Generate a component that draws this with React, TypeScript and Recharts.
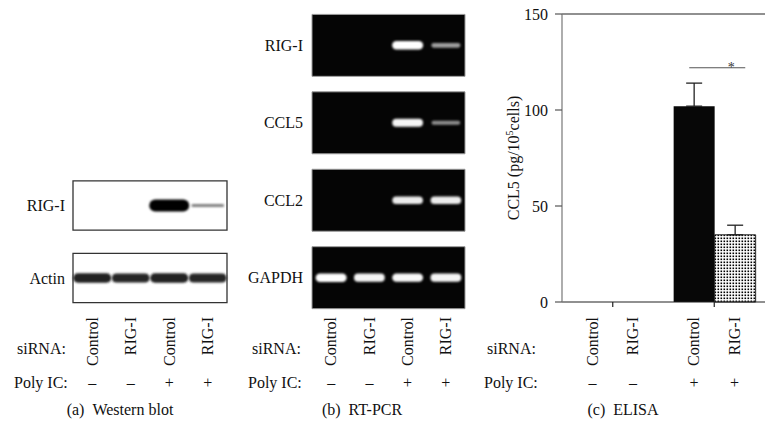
import React from "react";
import {
  Bar,
  BarChart,
  ErrorBar,
  ReferenceArea,
  ReferenceDot,
  ReferenceLine,
  Scatter,
  ScatterChart,
  XAxis,
  YAxis,
} from "recharts";

const FONT = "Liberation Serif, DejaVu Serif, serif";
const FS = 16;

// lanes shared by the three panels
const sirnaLabels = ["Control", "RIG-I", "Control", "RIG-I"];
const polyIcLabels = ["\u2013", "\u2013", "+", "+"];

// (a) western blot: band strength per lane, 0 = no band
const westernRows = ["RIG-I", "Actin"];
const westernRigI = [0, 0, 1, 0.4];
const westernActin = [0.85, 0.82, 0.85, 0.82];

// (b) RT-PCR
const pcrRows = ["RIG-I", "CCL5", "CCL2", "GAPDH"];
const pcrRigI = [0, 0, 1, 0.5];
const pcrCcl5 = [0, 0, 0.95, 0.42];
const pcrCcl2 = [0, 0, 0.9, 0.9];
const pcrGapdh = [1, 0.95, 0.97, 0.95];

// (c) ELISA, CCL5 pg/10^5 cells (upper error only)
const elisaGroups = ["\u2013", "+"];
const elisaControl = [0, 102];
const elisaRigI = [0, 35];
const elisaControlErr = [0, 12];
const elisaRigIErr = [0, 5];
const elisaTicks = [0, 50, 100, 150];
const sigLevel = 122;

type Band = { lane: number; row: number; strength: number };

function toBands(rows: number[][]): Band[] {
  return rows.flatMap((vals, row) =>
    vals.map((v, i) => ({ lane: i + 1, row, strength: v }))
  );
}

const westernData = toBands([westernRigI, westernActin]);
const pcrData = toBands([pcrRigI, pcrCcl5, pcrCcl2, pcrGapdh]);

const elisaData = elisaGroups.map((g, i) => ({
  group: g,
  control: elisaControl[i],
  rigi: elisaRigI[i],
  controlErr: [0, elisaControlErr[i]],
  rigiErr: [0, elisaRigIErr[i]],
}));

const LABEL_TOP = 317;
const SIGN_Y = 382;

function LaneLabel({ x, lane }: { x: number; lane: number }) {
  return (
    <g>
      <text
        transform={`translate(${x},${LABEL_TOP}) rotate(-90)`}
        textAnchor="end"
        dy="0.33em"
        fontSize={FS}
        fontFamily={FONT}
        fill="#111"
      >
        {sirnaLabels[lane]}
      </text>
      <text
        x={x}
        y={SIGN_Y}
        textAnchor="middle"
        dy="0.35em"
        fontSize={FS}
        fontFamily={FONT}
        fill="#111"
      >
        {polyIcLabels[lane]}
      </text>
    </g>
  );
}

function LaneTick(props: any) {
  return <LaneLabel x={props.x} lane={props.payload.value - 1} />;
}

function GroupTick(props: any) {
  const { x, index } = props;
  const half = 20.3;
  return (
    <g>
      <LaneLabel x={x - half} lane={index * 2} />
      <LaneLabel x={x + half} lane={index * 2 + 1} />
    </g>
  );
}

function WesternBand(props: any) {
  const { cx, cy, payload } = props;
  const v = payload.strength;
  if (!v) return <g />;
  const w = 28 + 12 * v;
  const h = 12 * Math.pow(v, 1.5);
  const grey = Math.round(215 * (1 - v));
  return (
    <rect
      x={cx - w / 2}
      y={cy - h / 2}
      width={w}
      height={h}
      rx={h / 2}
      fill={`rgb(${grey},${grey},${grey})`}
      filter="url(#soft)"
    />
  );
}

function PcrBand(props: any) {
  const { cx, cy, payload } = props;
  const v = payload.strength;
  if (!v) return <g />;
  const w = 27 + 4 * v;
  const h = 8.5 * Math.pow(v, 0.9);
  const grey = Math.round(60 + 195 * v);
  return (
    <rect
      x={cx - w / 2}
      y={cy - h / 2}
      width={w}
      height={h}
      rx={h / 2}
      fill={`rgb(${grey},${grey},${grey})`}
      filter="url(#soft)"
    />
  );
}

function SigMark(props: any) {
  const { cx, cy } = props;
  return (
    <g>
      <line x1={cx - 25} x2={cx + 31} y1={cy} y2={cy} stroke="#555" strokeWidth={1.2} />
      <text x={cx + 17} y={cy + 4} textAnchor="middle" fontSize={14} fontFamily={FONT} fill="#333">
        *
      </text>
    </g>
  );
}

const tickText = { fontSize: FS, fill: "#111", fontFamily: FONT };

function Txt(props: any) {
  return <text fontSize={FS} fontFamily={FONT} fill="#111" dy="0.35em" {...props} />;
}

export default function App() {
  return (
    <div
      style={{
        position: "absolute",
        left: 0,
        top: 0,
        width: 778,
        height: 432,
        background: "#fff",
        fontFamily: FONT,
      }}
    >
      <svg width={778} height={432} style={{ position: "absolute", left: 0, top: 0 }}>
        <defs>
          <pattern id="dots" width="3" height="3" patternUnits="userSpaceOnUse">
            <rect width="3" height="3" fill="#fff" />
            <rect x="0.5" y="0.5" width="1.6" height="1.6" fill="#000" />
          </pattern>
          <filter id="soft" x="-20%" y="-80%" width="140%" height="260%">
            <feGaussianBlur stdDeviation="0.9" />
          </filter>
        </defs>
        <Txt x={17} y={348}>siRNA:</Txt>
        <Txt x={14} y={SIGN_Y}>Poly IC:</Txt>
        <Txt x={120} y={409} textAnchor="middle">(a)&#160;&#160;Western blot</Txt>

        <Txt x={252} y={348}>siRNA:</Txt>
        <Txt x={248} y={SIGN_Y}>Poly IC:</Txt>
        <Txt x={362} y={409} textAnchor="middle">(b)&#160;&#160;RT-PCR</Txt>

        <Txt x={487} y={348}>siRNA:</Txt>
        <Txt x={484} y={SIGN_Y}>Poly IC:</Txt>
        <Txt x={623} y={409} textAnchor="middle">(c)&#160;&#160;ELISA</Txt>

        <Txt transform="translate(513,158) rotate(-90)" textAnchor="middle">
          CCL5 (pg/10
          <tspan dy="-6" fontSize={10}>5</tspan>
          <tspan dy="6">cells)</tspan>
        </Txt>
      </svg>

      {/* (a) Western blot */}
      <div style={{ position: "absolute", left: 0, top: 0 }}>
        <ScatterChart
          width={778}
          height={432}
          margin={{ top: 169.25, bottom: 97.75, left: 33, right: 551 }}
        >
          <XAxis
            type="number"
            dataKey="lane"
            domain={[0.5, 4.5]}
            ticks={[1, 2, 3, 4]}
            axisLine={false}
            tickLine={false}
            height={20}
            tick={<LaneTick />}
          />
          <YAxis
            type="number"
            dataKey="row"
            domain={[-0.5, 1.5]}
            reversed
            ticks={[0, 1]}
            tickFormatter={(v: number) => westernRows[v]}
            axisLine={false}
            tickLine={false}
            tickSize={0}
            tickMargin={8}
            width={40}
            tick={tickText}
          />
          {westernRows.map((r, i) => (
            <ReferenceArea
              key={r}
              x1={0.5}
              x2={4.5}
              y1={i - 0.34}
              y2={i + 0.34}
              fill="#fff"
              fillOpacity={1}
              stroke="#333"
              strokeWidth={1.3}
              ifOverflow="visible"
            />
          ))}
          <Scatter data={westernData} shape={<WesternBand />} isAnimationActive={false} />
        </ScatterChart>
      </div>

      {/* (b) RT-PCR */}
      <div style={{ position: "absolute", left: 0, top: 0 }}>
        <ScatterChart
          width={778}
          height={432}
          margin={{ top: 6.65, bottom: 95.6, left: 262, right: 313 }}
        >
          <XAxis
            type="number"
            dataKey="lane"
            domain={[0.5, 4.5]}
            ticks={[1, 2, 3, 4]}
            axisLine={false}
            tickLine={false}
            height={20}
            tick={<LaneTick />}
          />
          <YAxis
            type="number"
            dataKey="row"
            domain={[-0.5, 3.5]}
            reversed
            ticks={[0, 1, 2, 3]}
            tickFormatter={(v: number) => pcrRows[v]}
            axisLine={false}
            tickLine={false}
            tickSize={0}
            tickMargin={9}
            width={50}
            tick={tickText}
          />
          {pcrRows.map((r, i) => (
            <ReferenceArea
              key={r}
              x1={0.5}
              x2={4.5}
              y1={i - 0.4}
              y2={i + 0.4}
              fill="#050505"
              fillOpacity={1}
              stroke="#9a9a9a"
              strokeWidth={1}
              ifOverflow="visible"
            />
          ))}
          <Scatter data={pcrData} shape={<PcrBand />} isAnimationActive={false} />
        </ScatterChart>
      </div>

      {/* (c) ELISA */}
      <div style={{ position: "absolute", left: 0, top: 0 }}>
        <BarChart
          width={778}
          height={432}
          data={elisaData}
          margin={{ top: 14, bottom: 110, left: 502, right: 13 }}
          barGap={0}
          barCategoryGap="10%"
        >
          <XAxis
            dataKey="group"
            axisLine={{ stroke: "#222", strokeWidth: 1.2 }}
            tickLine={{ stroke: "#222", strokeWidth: 1.2 }}
            tickSize={5}
            height={20}
            tick={<GroupTick />}
          />
          <YAxis
            domain={[0, 150]}
            ticks={elisaTicks}
            width={60}
            tickSize={7}
            tickMargin={7}
            axisLine={{ stroke: "#777", strokeWidth: 1.2 }}
            tickLine={{ stroke: "#555", strokeWidth: 1.2 }}
            tick={tickText}
          />
          <YAxis
            yAxisId="right"
            orientation="right"
            domain={[0, 150]}
            width={0}
            tick={false}
            tickLine={false}
            axisLine={{ stroke: "#777", strokeWidth: 1.2 }}
          />
          <ReferenceLine y={150} stroke="#222" strokeWidth={1.2} ifOverflow="visible" />
          <Bar dataKey="control" fill="#070707" isAnimationActive={false}>
            <ErrorBar dataKey="controlErr" direction="y" width={8} stroke="#222" strokeWidth={1.3} />
          </Bar>
          <Bar dataKey="rigi" fill="url(#dots)" stroke="#222" strokeWidth={1} isAnimationActive={false}>
            <ErrorBar dataKey="rigiErr" direction="y" width={8} stroke="#222" strokeWidth={1.3} />
          </Bar>
          <ReferenceDot x="+" y={sigLevel} shape={<SigMark />} ifOverflow="visible" />
        </BarChart>
      </div>
    </div>
  );
}
